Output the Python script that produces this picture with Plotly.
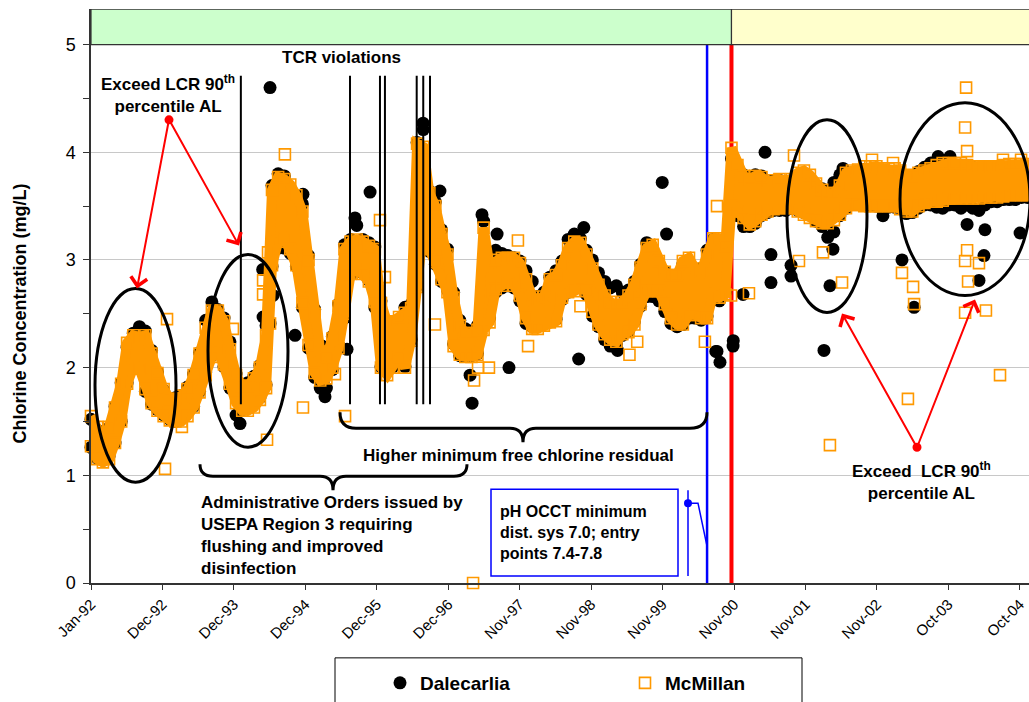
import pandas as pd
import plotly.graph_objects as go

# Monthly sampling grid (Jan 1992 .. Jan 2005)
months = list(pd.date_range("1992-01-01", "2005-01-01", freq="MS").strftime("%Y-%m-%d"))

# McMillan plant: upper / lower edge of the monthly readings (mg/L)
mcmillan_hi = [
    1.55, 1.45, 1.33, 1.45, 1.63, 1.85, 2.23, 2.30, 2.28, 2.30, 2.13, 1.95,
    1.80, 1.71, 1.71, 1.74, 1.80, 1.93, 2.13, 2.37, 2.53, 2.53, 2.43, 2.17,
    1.93, 1.83, 1.83, 1.90, 2.00, 2.30, 3.65, 3.77, 3.75, 3.70, 3.60, 3.45,
    3.00, 2.50, 2.15, 2.10, 2.27, 2.57, 3.10, 3.17, 3.19, 3.17, 3.13, 3.10,
    2.60, 2.42, 2.43, 2.47, 2.51, 2.55, 4.08, 4.05, 3.62, 3.50, 3.24, 3.05,
    2.65, 2.39, 2.32, 2.32, 2.35, 3.30, 2.95, 3.00, 3.02, 3.02, 3.02, 2.97,
    2.82, 2.66, 2.63, 2.66, 2.82, 2.86, 2.95, 3.11, 3.17, 3.16, 3.05, 2.92,
    2.77, 2.67, 2.61, 2.58, 2.61, 2.67, 2.77, 2.93, 3.11, 3.14, 2.99, 2.89,
    2.86, 2.86, 2.99, 3.02, 2.92, 2.89, 3.05, 3.20, 3.20, 3.13, 4.04, 3.88,
    3.78, 3.75, 3.78, 3.77, 3.72, 3.74, 3.75, 3.73, 3.75, 3.81, 3.83, 3.79,
    3.71, 3.65, 3.62, 3.62, 3.69, 3.81, 3.83, 3.84, 3.87, 3.87, 3.87, 3.85,
    3.85, 3.85, 3.83, 3.79, 3.78, 3.81, 3.83, 3.85, 3.88, 3.90, 3.90, 3.90,
    3.90, 3.88, 3.87, 3.87, 3.87, 3.87, 3.87, 3.88, 3.89, 3.89, 3.89, 3.89,
    3.89,
]
mcmillan_lo = [
    1.27, 1.15, 1.12, 1.15, 1.30, 1.50, 1.85, 2.00, 1.99, 1.80, 1.67, 1.60,
    1.55, 1.51, 1.50, 1.50, 1.55, 1.63, 1.77, 1.93, 2.10, 2.17, 2.03, 1.85,
    1.67, 1.60, 1.60, 1.63, 1.70, 1.81, 2.95, 3.17, 3.20, 3.10, 2.95, 2.60,
    2.21, 1.95, 1.88, 1.90, 2.00, 2.18, 2.50, 2.87, 2.92, 2.87, 2.80, 2.61,
    2.00, 1.93, 2.00, 2.10, 2.00, 2.25, 2.75, 3.30, 3.10, 2.98, 2.82, 2.70,
    2.20, 2.12, 2.10, 2.10, 2.12, 2.35, 2.42, 2.73, 2.76, 2.79, 2.76, 2.67,
    2.46, 2.36, 2.36, 2.39, 2.42, 2.43, 2.65, 2.70, 2.71, 2.74, 2.71, 2.52,
    2.40, 2.31, 2.26, 2.24, 2.31, 2.33, 2.40, 2.59, 2.71, 2.71, 2.71, 2.59,
    2.46, 2.40, 2.40, 2.49, 2.49, 2.46, 2.46, 2.68, 2.65, 2.68, 3.50, 3.45,
    3.39, 3.33, 3.36, 3.42, 3.45, 3.47, 3.48, 3.48, 3.48, 3.45, 3.42, 3.39,
    3.36, 3.34, 3.34, 3.37, 3.42, 3.48, 3.51, 3.51, 3.50, 3.50, 3.50, 3.50,
    3.50, 3.50, 3.47, 3.45, 3.45, 3.50, 3.53, 3.54, 3.54, 3.55, 3.57, 3.57,
    3.57, 3.57, 3.57, 3.57, 3.58, 3.58, 3.58, 3.59, 3.60, 3.60, 3.60, 3.60,
    3.60,
]

# Dalecarlia plant: upper / lower edge of the monthly readings (mg/L)
dalecarlia_hi = [
    1.52, 1.42, 1.34, 1.44, 1.64, 1.86, 2.19, 2.32, 2.38, 2.34, 2.16, 1.96,
    1.79, 1.70, 1.72, 1.74, 1.82, 1.94, 2.14, 2.44, 2.61, 2.54, 2.46, 2.24,
    1.94, 1.84, 1.86, 1.92, 2.02, 2.39, 3.69, 3.80, 3.78, 3.64, 3.56, 3.52,
    3.04, 2.54, 2.16, 2.12, 2.29, 2.59, 3.14, 3.19, 3.32, 3.19, 3.16, 3.12,
    2.62, 2.39, 2.39, 2.44, 2.56, 2.59, 4.09, 4.21, 3.64, 3.54, 3.28, 3.10,
    2.70, 2.44, 2.36, 2.34, 2.39, 3.36, 3.00, 3.09, 3.06, 3.04, 3.02, 2.99,
    2.90, 2.80, 2.66, 2.70, 2.84, 2.90, 2.99, 3.19, 3.24, 3.20, 3.09, 3.00,
    2.88, 2.80, 2.74, 2.76, 2.70, 2.72, 2.80, 2.96, 3.16, 3.10, 2.96, 2.89,
    2.84, 2.84, 2.96, 2.96, 2.89, 2.92, 3.09, 3.19, 3.16, 3.14, 3.94, 3.84,
    3.79, 3.76, 3.79, 3.78, 3.72, 3.74, 3.74, 3.72, 3.74, 3.78, 3.78, 3.76,
    3.69, 3.66, 3.64, 3.72, 3.79, 3.76, 3.80, 3.82, 3.84, 3.84, 3.84, 3.82,
    3.82, 3.82, 3.79, 3.77, 3.78, 3.82, 3.86, 3.90, 3.90, 3.90, 3.89, 3.88,
    3.88, 3.86, 3.86, 3.84, 3.84, 3.84, 3.84, 3.86, 3.86, 3.86, 3.87, 3.87,
    3.87,
]
dalecarlia_lo = [
    1.26, 1.16, 1.14, 1.18, 1.30, 1.50, 1.86, 2.01, 2.01, 1.78, 1.66, 1.61,
    1.56, 1.52, 1.50, 1.53, 1.58, 1.64, 1.78, 1.96, 2.11, 2.16, 2.01, 1.81,
    1.56, 1.61, 1.64, 1.66, 1.72, 1.84, 2.94, 3.11, 3.11, 3.06, 2.94, 2.56,
    2.18, 1.91, 1.81, 1.81, 1.98, 2.21, 2.46, 2.86, 2.91, 2.88, 2.81, 2.56,
    2.01, 1.96, 2.01, 2.11, 2.01, 2.26, 2.76, 3.36, 3.08, 2.96, 2.80, 2.72,
    2.22, 2.11, 2.11, 2.11, 2.13, 2.38, 2.46, 2.70, 2.74, 2.76, 2.74, 2.62,
    2.41, 2.38, 2.39, 2.45, 2.48, 2.45, 2.63, 2.70, 2.73, 2.76, 2.68, 2.48,
    2.38, 2.26, 2.20, 2.22, 2.30, 2.34, 2.43, 2.57, 2.66, 2.66, 2.62, 2.52,
    2.41, 2.38, 2.40, 2.46, 2.46, 2.44, 2.48, 2.63, 2.62, 2.70, 3.41, 3.41,
    3.31, 3.31, 3.34, 3.41, 3.44, 3.46, 3.46, 3.46, 3.48, 3.46, 3.44, 3.42,
    3.36, 3.31, 3.21, 3.26, 3.41, 3.48, 3.53, 3.52, 3.51, 3.51, 3.50, 3.48,
    3.49, 3.49, 3.48, 3.43, 3.44, 3.48, 3.51, 3.51, 3.49, 3.48, 3.51, 3.51,
    3.48, 3.51, 3.48, 3.46, 3.51, 3.54, 3.54, 3.56, 3.56, 3.56, 3.58, 3.58,
    3.58,
]

# Individual readings away from the main band
dalecarlia_extra_dates = [
    "1994-01-21", "1994-06-21", "1994-05-17", "1994-07-06", "1994-05-15", "1994-06-21",
    "1994-10-25", "1994-12-04", "1995-03-10", "1995-03-25", "1995-07-14", "1995-08-23",
    "1995-11-07", "1996-07-31", "1996-10-24", "1997-03-25", "1997-04-04", "1997-05-24",
    "1997-08-08", "1997-10-07", "1998-09-23", "1998-10-19", "1999-04-07", "1999-11-18",
    "1999-12-10", "2000-08-14", "2000-08-20", "2000-09-04", "2000-11-09", "2000-11-10",
    "2000-12-29", "2001-04-19", "2001-05-19", "2001-05-19", "2001-08-28", "2001-08-28",
    "2002-02-10", "2002-03-12", "2002-03-27", "2002-05-17", "2002-12-04", "2003-03-10",
    "2003-05-10", "2003-09-08", "2003-11-07", "2004-02-01", "2004-04-01", "2004-04-26",
    "2004-05-01", "2004-10-25",
]
dalecarlia_extra_vals = [
    1.48, 4.60, 2.47, 2.67, 2.91, 2.41,
    2.30, 3.61, 2.20, 1.73, 2.17, 3.39,
    3.63, 4.27, 3.64, 1.93, 1.67, 3.42,
    3.24, 2.00, 2.08, 3.30, 2.16, 3.72,
    3.24, 2.15, 2.15, 2.05, 2.20, 2.25,
    2.68, 4.00, 3.05, 2.79, 2.95, 2.85,
    2.16, 2.76, 3.10, 3.85, 3.41, 3.00,
    2.56, 3.96, 3.96, 3.33, 2.81, 3.04,
    3.28, 3.25,
]
mcmillan_extra_dates = [
    "1993-01-18", "1993-01-08", "1993-12-16", "1993-04-03", "1994-05-17", "1994-05-17",
    "1994-06-06", "1994-06-11", "1994-06-21", "1994-09-04", "1994-12-04", "1995-05-14",
    "1995-07-04", "1995-12-27", "1996-01-21", "1996-09-29", "1997-04-09", "1997-04-14",
    "1997-05-04", "1997-06-28", "1997-05-24", "1997-11-21", "1998-01-11", "1998-10-02",
    "1999-06-06", "1999-07-15", "2000-06-20", "2000-08-20", "2000-10-30", "2001-01-28",
    "2001-09-12", "2001-10-07", "2002-02-05", "2002-03-12", "2002-05-12", "2002-10-10",
    "2003-01-24", "2003-03-10", "2003-04-09", "2003-05-05", "2003-05-10", "2004-01-22",
    "2004-01-22", "2004-01-27", "2004-02-01", "2004-02-01", "2004-02-06", "2004-01-22",
    "2004-04-01", "2004-05-06", "2004-07-16", "2004-07-31", "2004-10-30",
]
mcmillan_extra_vals = [
    2.45, 1.06, 2.36, 1.45, 2.81, 2.68,
    1.33, 3.07, 2.41, 3.98, 1.63, 1.94,
    1.55, 3.37, 2.84, 2.40, 0.00, 1.88,
    2.00, 2.00, 2.69, 3.18, 2.20, 2.57,
    2.12, 2.24, 2.24, 3.50, 2.67, 2.69,
    3.97, 2.99, 3.07, 1.28, 2.79, 3.93,
    3.90, 2.88, 1.71, 2.75, 2.59, 4.23,
    2.51, 4.60, 4.01, 3.09, 2.80, 2.99,
    2.97, 2.53, 1.93, 3.93, 3.93,
]

# Total coliform rule violation dates
tcr_dates = ["1994-01-25", "1995-07-29", "1995-12-27", "1996-01-21",
             "1996-06-29", "1996-08-01", "1996-09-04"]
chloramine_switch = "2000-11-01"
ph_occt_start = "2000-07-01"

ORANGE = "#FF9900"
FONT = "Liberation Sans, Arial, sans-serif"

# layout geometry (figure pixels) and helpers to place decorations in paper units
FIG_W, FIG_H = 1029, 702
L, T, R, B = 91, 9, 0, 118
W, H = FIG_W - L - R, FIG_H - T - B


def X(p):
    return (p - L) / W


def Y(p):
    return (T + H - p) / H


def path(points_cmds):
    out = []
    for cmd, *pts in points_cmds:
        coords = " ".join(f"{X(a):.5f},{Y(b):.5f}" for a, b in zip(pts[0::2], pts[1::2]))
        out.append(f"{cmd} {coords}")
    return " ".join(out)


fig = go.Figure()

fig.add_trace(go.Scatter(
    x=months + months + dalecarlia_extra_dates,
    y=dalecarlia_hi + dalecarlia_lo + dalecarlia_extra_vals,
    mode="markers", name="Dalecarlia",
    marker=dict(symbol="circle", size=13, color="black", line=dict(width=0)),
    cliponaxis=False,
))
# dense daily McMillan readings merge into a solid ribbon; its edges are stroked
# as wide as a marker so the ribbon covers the full footprint of the squares
fig.add_trace(go.Scatter(
    x=months, y=mcmillan_lo, mode="lines", line=dict(width=10, color=ORANGE),
    showlegend=False, hoverinfo="skip", legendgroup="mc",
))
fig.add_trace(go.Scatter(
    x=months, y=mcmillan_hi, mode="lines", line=dict(width=10, color=ORANGE),
    fill="tonexty", fillcolor=ORANGE,
    showlegend=False, hoverinfo="skip", legendgroup="mc",
))
fig.add_trace(go.Scatter(
    x=months + months + mcmillan_extra_dates,
    y=mcmillan_hi + mcmillan_lo + mcmillan_extra_vals,
    mode="markers", name="McMillan", legendgroup="mc",
    marker=dict(symbol="square-open", size=11, color=ORANGE, line=dict(width=1.6, color=ORANGE)),
    cliponaxis=False,
))

shapes = []
# period bands above the 5 mg/L line
shapes.append(dict(type="rect", xref="x", yref="y", x0="1992-01-01", x1=chloramine_switch,
                   y0=5, y1=5.328, fillcolor="#CCFFCC", line=dict(color="#333333", width=1.2),
                   layer="above"))
shapes.append(dict(type="rect", xref="x", yref="y", x0=chloramine_switch, x1="2005-06-01",
                   y0=5, y1=5.328, fillcolor="#FFFFCC", line=dict(color="#333333", width=1.2),
                   layer="above"))
# treatment change markers
shapes.append(dict(type="line", xref="x", yref="y", x0=ph_occt_start, x1=ph_occt_start,
                   y0=0, y1=5, line=dict(color="#0000FF", width=2.5), layer="between"))
shapes.append(dict(type="line", xref="x", yref="y", x0=chloramine_switch, x1=chloramine_switch,
                   y0=0, y1=5, line=dict(color="#FF0000", width=4), layer="between"))
# TCR violations
for d in tcr_dates:
    shapes.append(dict(type="line", xref="x", yref="y", x0=d, x1=d, y0=1.66, y1=4.71,
                       line=dict(color="black", width=2)))
# highlighted periods
for (a, b, c, d) in [(95, 289, 176, 483), (208, 255, 288, 448),
                     (787, 120, 867, 313), (900, 103, 1030, 296)]:
    shapes.append(dict(type="circle", xref="paper", yref="paper",
                       x0=X(a), x1=X(c), y0=Y(d), y1=Y(b),
                       line=dict(color="black", width=3)))
# braces
shapes.append(dict(type="path", xref="paper", yref="paper", line=dict(color="black", width=3),
                   path=path([("M", 200, 465), ("Q", 200, 477, 213, 477), ("L", 320, 477),
                              ("Q", 333, 477, 333, 491), ("Q", 333, 477, 346, 477),
                              ("L", 454, 477), ("Q", 467, 477, 467, 465)])))
shapes.append(dict(type="path", xref="paper", yref="paper", line=dict(color="black", width=3),
                   path=path([("M", 340, 413), ("Q", 340, 429, 356, 429), ("L", 510, 429),
                              ("Q", 523, 429, 523, 443), ("Q", 523, 429, 536, 429),
                              ("L", 690, 429), ("Q", 707, 429, 707, 413)])))
# pH OCCT note box and its marker
shapes.append(dict(type="rect", xref="paper", yref="paper", x0=X(491), x1=X(678),
                   y0=Y(577), y1=Y(490), line=dict(color="#0000FF", width=1.5)))
shapes.append(dict(type="line", xref="paper", yref="paper", x0=X(688), x1=X(688),
                   y0=Y(577), y1=Y(491), line=dict(color="#0000FF", width=1.5)))
shapes.append(dict(type="path", xref="paper", yref="paper", line=dict(color="#0000FF", width=1.5),
                   path=path([("M", 688, 504), ("L", 698, 504), ("L", 707, 547)])))
shapes.append(dict(type="circle", xref="paper", yref="paper", fillcolor="#0000FF",
                   x0=X(684), x1=X(692), y0=Y(508), y1=Y(500), line=dict(width=0)))
# red origin dots for the LCR arrows
for (cx, cy) in [(169, 120), (917, 448)]:
    shapes.append(dict(type="circle", xref="paper", yref="paper", fillcolor="#FF0000",
                       x0=X(cx - 4.5), x1=X(cx + 4.5), y0=Y(cy + 4.5), y1=Y(cy - 4.5),
                       line=dict(width=0)))
# legend frame
shapes.append(dict(type="rect", xref="paper", yref="paper", x0=X(335), x1=X(802),
                   y0=Y(706), y1=Y(659), line=dict(color="black", width=1)))

bold = dict(family=FONT, size=17, color="black", weight="bold")
annotations = [
    dict(text="TCR violations", x=X(341), y=Y(58)),
    dict(text="Exceed LCR 90<sup>th</sup><br>percentile AL", x=X(168), y=Y(94)),
    dict(text="Exceed&nbsp; LCR 90<sup>th</sup><br>percentile AL", x=X(921), y=Y(482)),
    dict(text="Higher minimum free chlorine residual", x=X(518), y=Y(456)),
    dict(text="Administrative Orders issued by<br>USEPA Region 3 requiring<br>"
              "flushing and improved<br>disinfection",
         x=X(199), y=Y(536), xanchor="left", align="left"),
    dict(text="pH OCCT minimum<br>dist. sys 7.0; entry<br>points 7.4-7.8",
         x=X(498), y=Y(533), xanchor="left", align="left", font=dict(bold, size=16)),
    dict(text="Chlorine Concentration (mg/L)", x=X(20), y=Y(314), textangle=-90,
         font=dict(bold, size=18)),
]
for a in annotations:
    a.setdefault("xref", "paper")
    a.setdefault("yref", "paper")
    a.setdefault("showarrow", False)
    a.setdefault("font", bold)
    a.setdefault("xanchor", "center")
    a.setdefault("yanchor", "middle")

# red arrows from the dots to the highlighted periods
for (tx, ty), (hx, hy) in [((169, 120), (137, 289)), ((169, 120), (239, 246)),
                           ((917, 448), (842, 314)), ((917, 448), (975, 300))]:
    annotations.append(dict(
        xref="paper", yref="paper", x=X(hx), y=Y(hy), axref="pixel", ayref="pixel",
        ax=tx - hx, ay=ty - hy, text="", showarrow=True, arrowhead=4, arrowsize=1.6,
        arrowwidth=2, arrowcolor="#FF0000",
    ))

fig.update_layout(
    width=FIG_W, height=FIG_H,
    margin=dict(l=L, r=R, t=T, b=B, pad=0),
    paper_bgcolor="white", plot_bgcolor="white",
    font=dict(family=FONT, color="black"),
    shapes=shapes, annotations=annotations,
    showlegend=True,
    legend=dict(orientation="h", x=X(380), xanchor="left", y=Y(684), yanchor="middle",
                font=dict(family=FONT, size=19, color="black", weight="bold"),
                bgcolor="rgba(0,0,0,0)", entrywidth=200, traceorder="normal"),
    xaxis=dict(
        type="date", range=["1992-01-01", "2004-12-09"],
        tick0="1992-01-01", dtick=360 * 24 * 3600 * 1000, tickformat="%b-%y",
        tickangle=-45, ticks="outside", ticklen=5, tickcolor="#333333",
        tickfont=dict(family=FONT, size=15, color="black"),
        showline=True, linecolor="#333333", linewidth=1.5,
        showgrid=False, zeroline=False,
    ),
    yaxis=dict(
        range=[0, 5.33], tick0=0, dtick=1, ticks="outside", ticklen=6, tickcolor="#333333",
        tickfont=dict(family=FONT, size=18, color="black"), ticklabelstandoff=4,
        minor=dict(dtick=0.5, ticks="outside", ticklen=6, tickcolor="#333333", showgrid=False),
        showline=True, linecolor="#333333", linewidth=1.5,
        showgrid=True, gridcolor="#C8C8C8", gridwidth=1.2, zeroline=False,
    ),
)

fig.write_html("out.html")
